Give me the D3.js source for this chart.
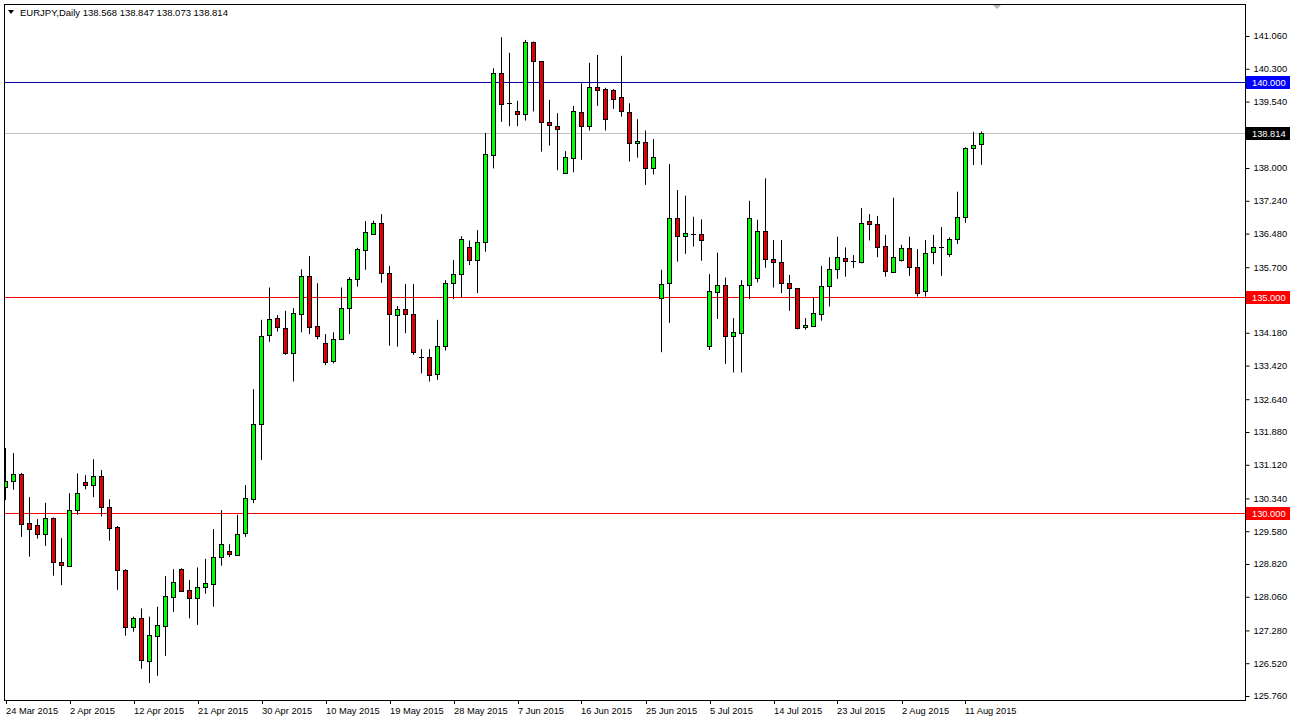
<!DOCTYPE html>
<html><head><meta charset="utf-8">
<script src="https://cdn.jsdelivr.net/npm/d3@7"></script>
<style>
body{margin:0;background:#fff;}
svg{display:block;}
text{font-family:"Liberation Sans",Arial,sans-serif;}
</style>
</head><body>
<svg id="chart" width="1291" height="720"></svg>
<script>
const symbolTitle = "EURJPY,Daily";
const lastQuote = ["138.568", "138.847", "138.073", "138.814"];

const openP = [130.61,130.74,130.91,129.76,129.72,129.51,129.88,128.86,128.78,130.07,
130.71,130.65,130.86,130.14,129.67,128.68,127.35,127.56,126.58,127.16,
127.39,128.06,128.70,128.22,128.03,128.28,128.35,128.98,129.11,129.03,
129.52,130.34,132.08,134.11,134.52,134.28,133.70,134.63,135.50,134.34,
133.94,133.51,134.03,134.75,135.42,136.10,136.46,136.72,135.56,134.58,
134.73,134.61,133.63,133.63,133.22,133.86,135.33,135.54,136.16,135.87,
136.28,138.32,140.21,139.51,139.32,139.25,140.91,140.47,139.06,138.97,
137.88,138.24,139.29,138.96,139.87,139.83,139.81,139.64,139.29,138.57,
138.60,137.99,134.99,135.33,136.83,136.42,136.46,136.46,133.88,135.13,
135.29,134.09,134.18,135.27,135.44,136.54,135.88,135.81,135.33,135.21,
134.31,134.34,134.63,135.25,135.65,135.91,135.84,135.81,136.76,136.70,
136.19,135.60,135.87,136.15,135.71,135.13,136.05,136.16,136.02,136.35,
136.87,138.46,138.568];
const highP = [131.51,131.39,130.93,130.37,129.86,130.24,129.90,129.42,130.46,130.92,
130.88,131.25,131.00,130.32,129.70,128.70,127.60,127.79,127.60,127.83,
128.54,128.70,128.72,128.45,128.74,128.94,129.63,130.07,129.28,129.96,
130.65,132.87,134.48,135.23,134.59,134.69,134.75,135.65,135.96,135.33,
134.15,134.19,135.23,135.47,136.15,136.77,136.78,136.93,135.73,134.80,
135.31,135.31,133.80,133.80,134.48,135.40,135.87,136.42,136.32,136.56,
138.81,140.31,141.03,140.67,139.56,140.97,140.93,140.48,139.58,139.27,
138.39,139.44,139.96,140.44,140.62,139.86,139.83,140.60,139.50,139.13,
138.87,138.67,135.64,138.09,137.49,137.36,136.87,136.81,135.54,136.04,
135.46,134.52,135.40,137.24,136.80,137.76,136.33,136.33,135.52,135.22,
134.52,135.00,135.73,135.93,136.41,136.16,135.98,137.07,136.93,136.89,
136.45,137.31,136.22,136.41,136.12,136.33,136.45,136.63,136.39,137.45,
138.48,138.84,138.847];
const lowP = [130.30,130.54,129.45,128.99,129.41,129.24,128.55,128.33,128.76,129.96,
130.55,130.37,129.92,129.36,128.22,127.16,127.25,126.39,126.06,126.23,
126.69,127.71,128.18,127.56,127.41,128.13,127.83,128.78,128.98,129.01,
129.45,130.23,131.23,133.97,134.21,133.67,133.05,134.19,134.15,134.03,
133.43,133.47,134.01,134.15,135.25,135.64,136.45,135.34,133.88,133.86,
134.17,133.67,133.24,133.05,133.09,133.77,134.96,134.99,135.75,135.10,
136.06,137.99,139.07,138.97,138.97,139.10,139.31,138.38,138.52,137.95,
137.87,137.90,138.19,138.87,139.44,138.87,139.37,139.19,138.15,138.24,
137.61,137.85,133.73,134.41,135.83,136.01,136.18,135.85,133.78,134.50,
133.46,133.26,133.26,134.96,135.35,135.69,135.23,135.10,134.69,134.26,
134.25,134.32,134.46,134.79,135.43,135.48,135.68,135.79,136.32,135.93,
135.48,135.57,135.83,135.50,135.02,135.02,135.77,135.50,135.94,136.24,
136.73,138.07,138.073];
const closeP = [130.75,130.91,129.76,129.63,129.52,129.88,128.86,128.78,130.07,130.46,
130.65,130.86,130.14,129.65,128.68,127.35,127.56,126.58,127.18,127.41,
128.08,128.40,128.20,128.03,128.28,128.37,128.98,129.28,129.05,129.51,
130.34,132.07,134.11,134.49,134.30,133.70,134.63,135.50,134.31,134.11,
133.51,134.03,134.75,135.42,136.12,136.51,136.72,135.56,134.61,134.73,
134.61,133.72,133.63,133.22,133.87,135.33,135.54,136.35,135.87,136.28,
138.32,140.21,139.50,139.51,139.25,140.91,140.47,139.06,138.98,138.90,
138.25,139.32,138.96,139.87,139.81,139.13,139.60,139.31,138.57,138.62,
137.99,138.25,135.31,136.83,136.42,136.49,136.46,136.32,135.15,135.29,
134.11,134.19,135.29,136.83,136.54,135.88,135.81,135.33,135.21,134.28,
134.36,134.63,135.27,135.65,135.93,135.85,135.84,136.72,136.68,136.16,
135.60,135.94,136.15,135.70,135.11,136.02,136.16,136.16,136.36,136.87,
138.46,138.53,138.814];

const dateLabels = ["24 Mar 2015","2 Apr 2015","12 Apr 2015","21 Apr 2015","30 Apr 2015",
"10 May 2015","19 May 2015","28 May 2015","7 Jun 2015","16 Jun 2015","25 Jun 2015",
"5 Jul 2015","14 Jul 2015","23 Jul 2015","2 Aug 2015","11 Aug 2015"];
const dateLabelBar = [0,8,16,24,32,40,48,56,64,72,80,88,96,104,112,120];

// visible price scale labels (138.780 and 134.940 are covered by the price tags)
const priceTicks = [141.060,140.300,139.540,138.000,137.240,136.480,135.700,
134.180,133.420,132.640,131.880,131.120,130.340,129.580,128.820,128.060,
127.280,126.520,125.760];

const levelPrices = [140.000, 135.000, 130.000];
const currentPrice = 138.814;

(function draw() {
const svg = d3.select("#chart");
const W = 1291, H = 720;
const pL = 4, pT = 4, pR = 1245, pB = 700;

svg.append("rect").attr("width", W).attr("height", H).attr("fill", "#fff");

const n = openP.length;
const x = d3.scaleLinear().domain([0, n - 1]).range([5.5, 5.5 + 8 * (n - 1)]);
const y = d3.scaleLinear().domain([125.76, 141.06]).range([696, 36]);

svg.append("defs").append("clipPath").attr("id", "plotclip")
  .append("rect").attr("x", pL + 1).attr("y", pT + 1)
  .attr("width", pR - pL - 1).attr("height", pB - pT - 1);

const plot = svg.append("g").attr("clip-path", "url(#plotclip)");

const levelColor = ["#0000a0", "#ff0000", "#ff0000"];
levelPrices.forEach((p, i) => {
  plot.append("rect").attr("x", pL).attr("width", pR - pL)
    .attr("y", Math.round(y(p))).attr("height", 1)
    .attr("fill", levelColor[i]);
});
plot.append("rect").attr("x", pL).attr("width", pR - pL)
  .attr("y", Math.round(y(currentPrice))).attr("height", 1)
  .attr("fill", "#c0c0c0");

const idx = d3.range(n);
plot.selectAll("line.wick").data(idx).join("line").attr("class", "wick")
  .attr("x1", i => x(i)).attr("x2", i => x(i))
  .attr("y1", i => y(highP[i])).attr("y2", i => y(lowP[i]))
  .attr("stroke", "#000").attr("stroke-width", 1);

idx.forEach(i => {
  const o = openP[i], c = closeP[i];
  const yTop = y(Math.max(o, c)), yBot = y(Math.min(o, c));
  const h = yBot - yTop;
  if (h < 1) {
    plot.append("line").attr("x1", x(i) - 2.5).attr("x2", x(i) + 2.5)
      .attr("y1", Math.round(yTop) + 0.5).attr("y2", Math.round(yTop) + 0.5)
      .attr("stroke", "#000").attr("stroke-width", 1);
  } else {
    plot.append("rect").attr("x", x(i) - 2).attr("width", 4)
      .attr("y", Math.round(yTop) + 0.5).attr("height", Math.max(1, Math.round(h)))
      .attr("fill", c >= o ? "#00ff00" : "#e00000")
      .attr("stroke", "#000").attr("stroke-width", 1);
  }
});

svg.append("rect").attr("x", pL + 0.5).attr("y", pT + 0.5)
  .attr("width", pR - pL).attr("height", pB - pT)
  .attr("fill", "none").attr("stroke", "#000").attr("stroke-width", 1);

const yAxis = d3.axisRight(y).tickValues(priceTicks).tickSize(4).tickPadding(4)
  .tickFormat(d3.format(".3f"));
const ga = svg.append("g").attr("transform", `translate(${pR + 0.5},0)`).call(yAxis);
ga.select(".domain").remove();
ga.selectAll("text").attr("font-size", "9.3px").attr("fill", "#000")
  .attr("font-family", "Liberation Sans, Arial, sans-serif");
ga.selectAll("line").attr("stroke", "#000");

const labelBg = ["#0000ff", "#ff0000", "#ff0000"];
function axisTag(p, bg) {
  const yy = Math.round(y(p));
  svg.append("rect").attr("x", pR + 1).attr("y", yy - 6).attr("width", 44).attr("height", 13)
    .attr("fill", bg);
  svg.append("text").attr("x", pR + 7).attr("y", yy + 0.5).attr("dy", "0.35em")
    .attr("font-size", "9.3px").attr("fill", "#fff").text(d3.format(".3f")(p));
}
levelPrices.forEach((p, i) => axisTag(p, labelBg[i]));
axisTag(currentPrice, "#000");

dateLabelBar.forEach((b, i) => {
  const xx = Math.round(x(b)) + 0.5;
  svg.append("line").attr("x1", xx).attr("x2", xx).attr("y1", pB).attr("y2", pB + 4)
    .attr("stroke", "#000");
  svg.append("text").attr("x", xx - 0.5).attr("y", 714).attr("font-size", "9.3px")
    .attr("fill", "#000").text(dateLabels[i]);
});

svg.append("path").attr("d", "M8,10 L14,10 L11,14 Z").attr("fill", "#000");
svg.append("text").attr("x", 20).attr("y", 16).attr("font-size", "9.5px").attr("fill", "#000")
  .text(symbolTitle + "  " + lastQuote.join(" "));

svg.append("path").attr("d", "M993,5 L1001,5 L997,9 Z").attr("fill", "#b4b4b4");
})();
</script>
</body></html>
